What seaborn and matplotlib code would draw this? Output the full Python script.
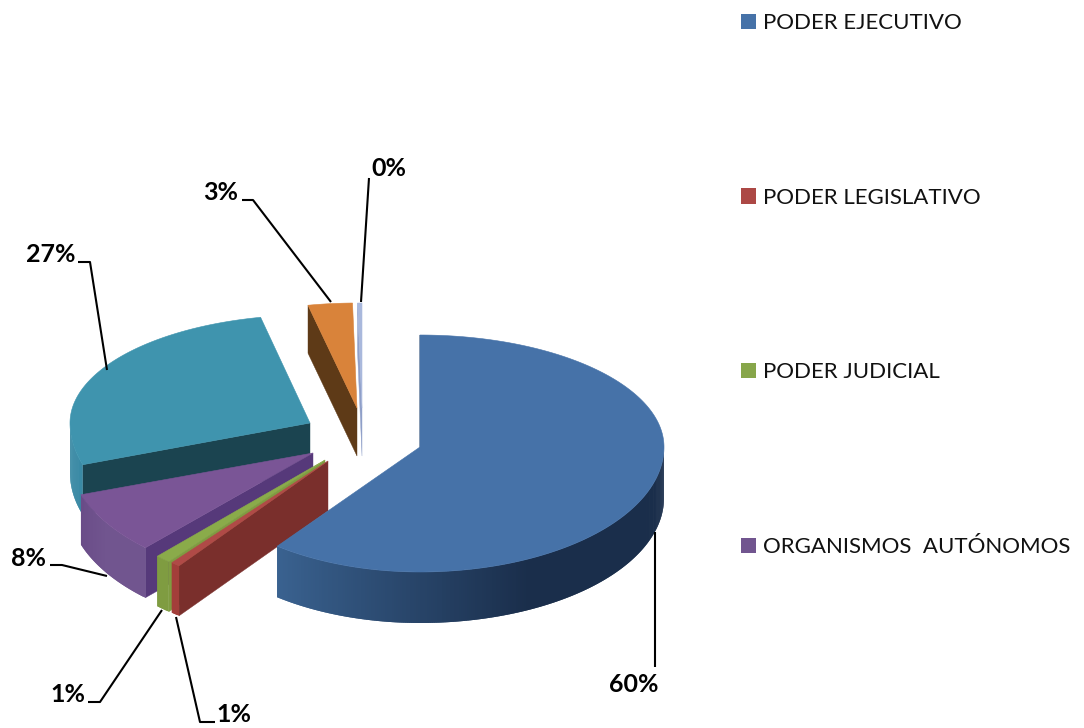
import numpy as np
import matplotlib
matplotlib.use("Agg")
import matplotlib.pyplot as plt
from matplotlib.patches import Patch, Polygon
from matplotlib.transforms import IdentityTransform
import seaborn as sns

sns.set_theme(style="white", font="Lato")

# values (share of total, percent)
shares = [60.4, 0.6, 1.0, 7.8, 26.9, 3.0, 0.3]
legend_labels = ["PODER EJECUTIVO", "PODER LEGISLATIVO", "PODER JUDICIAL", "ORGANISMOS  AUTÓNOMOS"]
legend_colors = ["#4672a8", "#ac4845", "#87a64a", "#71558f"]

# colours per slice
top_colors = ["#4672a8", "#b04a47", "#8aab4a", "#7a5596", "#3f94ae", "#d9833a", "#a9b8dc"]
cut_colors = ["#1c3354", "#7a2f2c", "#7f9c41", "#56397a", "#1b4450", "#5e3a17", "#8f9fc8"]
wall_start = ["#3a6290", "#a33e3a", "#7f9c41", "#6a4c88", "#3a8aa5", "#5e3a17", "#8f9fc8"]
wall_end = ["#1a2e4b", "#a33e3a", "#7f9c41", "#71558f", "#3a8aa5", "#5e3a17", "#8f9fc8"]

# pie layout in pixels
pie_x, pie_y = 420, 447
explode_x = [0, -92, -95, -107, -110, -63, -58]
explode_y = [0, 14, 13, 6, -24, -39, -39]
rx_left = [235, 245, 245, 245, 240, 238, 238]
rx_right = [244, 244, 244, 244, 238, 238, 238]
ry_back = [112, 112, 112, 112, 108, 105, 105]
ry_front = [125, 132, 132, 130, 130, 105, 105]
depth = [51, 50, 50, 50, 50, 48, 48]
draw_order = [6, 5, 4, 3, 2, 1, 0]

# leader lines and label positions
leaders = [
    [(655, 532), (655, 667)],
    [(176, 617), (200, 722), (215, 722)],
    [(162, 610), (100, 702), (88, 702)],
    [(107, 576), (62, 565), (50, 565)],
    [(107, 370), (90, 262), (78, 262)],
    [(331, 302), (253, 200), (242, 200)],
    [(361, 302), (369, 178)],
]
label_pos = [(634, 685), (234, 715), (68, 695), (28, 558), (51, 254), (221, 193), (389, 169)]

fig = plt.figure(figsize=(10.84, 7.28), dpi=100)
ax = fig.add_axes([0, 0, 1, 1])
ax.set_xlim(0, 1084)
ax.set_ylim(728, 0)
ax.axis("off")


def rim(i, t):
    # point on the top ellipse of slice i, t in degrees clockwise from 12 o'clock
    t = np.radians(t)
    s, c = np.sin(t), np.cos(t)
    x = pie_x + explode_x[i] + s * np.where(s < 0, rx_left[i], rx_right[i])
    y = pie_y + explode_y[i] - c * np.where(c < 0, ry_front[i], ry_back[i])
    return x, y


edges = np.cumsum([0] + shares) / sum(shares) * 360

for i in draw_order:
    t0, t1 = edges[i], edges[i + 1]
    ax0, ay0 = pie_x + explode_x[i], pie_y + explode_y[i]
    d = depth[i]

    # cut face
    x0, y0 = rim(i, t0)
    ax.add_patch(Polygon([(ax0, ay0), (x0, y0), (x0, y0 + d), (ax0, ay0 + d)],
                         facecolor=cut_colors[i], edgecolor=cut_colors[i], lw=0.3))

    # outer wall, only the part facing the viewer
    lo, hi = max(t0, 90), min(t1, 270)
    if hi > lo:
        n = max(int(hi - lo) * 2, 2)
        steps = np.linspace(lo, hi, n + 1)
        pal = sns.blend_palette([wall_start[i], wall_end[i], wall_end[i]], n)
        # draw from the right end, each band overlapping the next so no seams show
        for k in range(n):
            col = pal[n - 1 - k]
            ts = steps[k:min(k + 3, n + 1)]
            xs, ys = rim(i, ts)
            pts = list(zip(xs, ys)) + list(zip(xs[::-1], ys[::-1] + d))
            ax.add_patch(Polygon(pts, facecolor=col, edgecolor="none", lw=0))

    # top face
    ts = np.linspace(t0, t1, max(int(t1 - t0) * 2, 4))
    xs, ys = rim(i, ts)
    pts = [(ax0, ay0)] + list(zip(xs, ys))
    ax.add_patch(Polygon(pts, facecolor=top_colors[i], edgecolor=top_colors[i], lw=0.4))

for pts in leaders:
    xs, ys = zip(*pts)
    ax.plot(xs, ys, color="black", lw=1.5, solid_capstyle="butt", zorder=5)

for share, (x, y) in zip(shares, label_pos):
    ax.text(x, y, f"{share:.0f}%", ha="center", va="center", fontsize=18,
            fontweight="bold", color="black", zorder=6)

handles = [Patch(facecolor=c, edgecolor="none") for c in legend_colors]
ax.legend(handles, legend_labels, loc="upper left", bbox_to_anchor=(741, 715),
          bbox_transform=IdentityTransform(),
          frameon=False, fontsize=16, labelspacing=6.96, handlelength=0.68,
          handleheight=0.68, handletextpad=0.32, borderpad=0, borderaxespad=0,
          labelcolor="#111111")

fig.savefig("out.png", dpi=100, facecolor="white")
